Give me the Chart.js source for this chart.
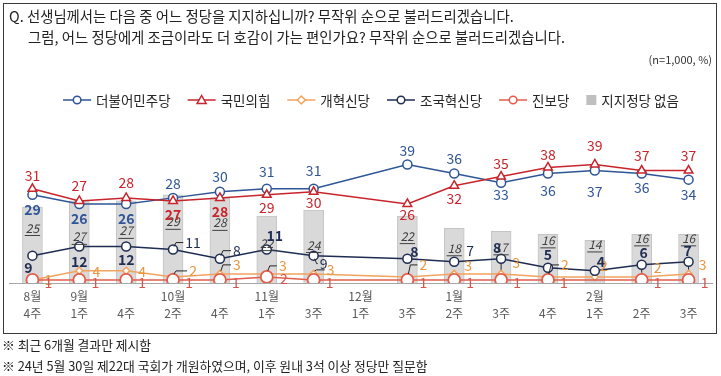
<!DOCTYPE html>
<html><head><meta charset="utf-8">
<script src="https://cdn.jsdelivr.net/npm/chart.js@4.4.1/dist/chart.umd.min.js"></script>
<style>
html,body{margin:0;padding:0;background:#fff;width:721px;height:376px;overflow:hidden;font-family:"Noto Sans CJK KR","Noto Sans",sans-serif;}
#box{position:absolute;left:3px;top:3px;width:712px;height:329px;border:1.5px solid #3a3a3a;}
.t{position:absolute;white-space:nowrap;color:#222;line-height:1;}
canvas{position:absolute;left:0;top:0;}
</style></head><body>
<div id="box"></div>
<canvas id="c" width="721" height="376"></canvas>
<div class="t" style="left:9px;top:9px;font-size:14.4px">Q. 선생님께서는 다음 중 어느 정당을 지지하십니까? 무작위 순으로 불러드리겠습니다.</div>
<div class="t" style="left:28px;top:30px;font-size:14.4px">그럼, 어느 정당에게 조금이라도 더 호감이 가는 편인가요? 무작위 순으로 불러드리겠습니다.</div>
<div class="t" style="right:9px;top:54px;font-size:11px;color:#333">(n=1,000, %)</div>
<div class="t" style="left:2px;top:339px;font-size:12.8px">※ 최근 6개월 결과만 제시함</div>
<div class="t" style="left:2px;top:360px;font-size:12.8px">※ 24년 5월 30일 제22대 국회가 개원하였으며, 이후 원내 3석 이상 정당만 질문함</div>
<script>
// ---- data ----
const categories = [['8월','4주'],['9월','1주'],['','4주'],['10월','2주'],['','4주'],['11월','1주'],['','3주'],['12월','1주'],['','3주'],['1월','2주'],['','3주'],['','4주'],['2월','1주'],['','2주'],['','3주']];
const seriesNames = ['더불어민주당','국민의힘','개혁신당','조국혁신당','진보당','지지정당 없음'];
const democratic  = [29,26,26,28,30,31,31,null,39,36,33,36,37,36,34];
const ppp         = [31,27,28,27,28,29,30,null,26,32,35,38,39,37,37];
const reform      = [1,4,4,2,3,3,3,null,2,3,3,2,2,2,3];
const rebuilding  = [9,12,12,11,8,11,9,null,8,7,8,5,4,6,7];
const progressive = [1,1,1,1,1,2,1,null,1,1,1,1,1,1,1];
const noParty     = [25,27,27,29,28,22,24,null,22,18,17,16,14,16,16];

// ---- label placement (style only): [dx, dy, leader] ----
const demLabel  = [[0,15],[0,15],[0,15],[0,-14],[0,-15],[0,-17],[0,-18],null,[0,-14],[0,-15],[0,12],[0,17],[0,21],[0,14],[0,15]];
const pppLabel  = [[0,-13],[0,-15],[0,-15],[0,14],[0,14],[0,13],[0,11],null,[0,11],[0,13],[0,-13],[0,-13],[0,-19],[0,-15],[0,-15]];
const rebLabel  = [[-4,12],[0,15],[0,13],[20,-7,1],[17,-8,1],[8,-14],[10,8,1],null,[7,-7],[16,-11],[-4,-11],[0,-13],[6,-9],[2,-12],[-1,-11]];
const refLabel  = [[16,0],[17,1],[16,1],[20,-6,1],[17,-9,1],[16,-8,1],[17,-4,1],null,[16,-12,1],[14,-8],[15,-11],[17,-12,1],[9,-11],[16,-9],[14,-9]];
const progLabel = [[16,3],[16,3],[16,3],[16,3],[16,3],[17,2],[16,3],null,[16,3],[16,3],[16,3],[16,3],null,[16,3],[16,3]];
const barLabelDy = [21,36,30,27,25,27,35,null,20,20,16,6,4,4,4];
const stemIdx = [10,11,13,14];
const progRadius = [6,6,6,6,6,6,6,6,6,6,6,6,0,6,6];

const FONT = '"Noto Sans CJK KR","Noto Sans",sans-serif';
const C = {dem:'#2f5597', ppp:'#c8242b', ref:'#f2a35e', refT:'#e8963f', reb:'#1f2d52', prog:'#e25d4c', progT:'#d9534a', bar:'#d9d9d9'};

const labelPlugin = {
  id:'labels',
  afterDatasetDraw(chart, args){
    if (args.index !== 5) return;
    const ctx = chart.ctx;
    const mReb = chart.getDatasetMeta(3), mProg = chart.getDatasetMeta(4);
    ctx.save(); ctx.strokeStyle = '#262626'; ctx.lineWidth = 1;
    stemIdx.forEach(i=>{
      const a = mReb.data[i], b = mProg.data[i];
      ctx.beginPath(); ctx.moveTo(a.x, a.y); ctx.lineTo(b.x, b.y); ctx.stroke();
    });
    ctx.restore();
  },
  afterDatasetsDraw(chart){
    const ctx = chart.ctx;
    const barMeta = chart.getDatasetMeta(5);
    const inBar = (x,y)=> barMeta.data.some((b,i)=> noParty[i]!=null && x>b.x-10 && x<b.x+10 && y>b.y);
    ctx.save();
    ctx.textAlign='center'; ctx.textBaseline='middle';
    barMeta.data.forEach((b,i)=>{
      if (noParty[i]==null) return;
      const y = b.y + barLabelDy[i];
      ctx.font = 'italic 12px '+FONT; ctx.fillStyle='#404040';
      const s = String(noParty[i]); const w = ctx.measureText(s).width;
      ctx.fillText(s, b.x, y);
      ctx.strokeStyle='#404040'; ctx.lineWidth=1;
      ctx.beginPath(); ctx.moveTo(b.x-w/2-1, y+7.5); ctx.lineTo(b.x+w/2+1, y+7.5); ctx.stroke();
    });
    const sets = [[0,democratic,demLabel,C.dem],[1,ppp,pppLabel,C.ppp],[2,reform,refLabel,C.refT],[3,rebuilding,rebLabel,C.reb],[4,progressive,progLabel,C.progT]];
    sets.forEach(([di,vals,pos,col])=>{
      const meta = chart.getDatasetMeta(di);
      meta.data.forEach((p,i)=>{
        if (vals[i]==null || !pos[i]) return;
        const [dx,dy,lead] = pos[i];
        const lx = p.x+dx, ly = p.y+dy;
        const bold = inBar(lx,ly) && (di===0||di===1||di===3);
        ctx.font = (bold?'bold ':'')+'14px '+FONT;
        const s = String(vals[i]); const w = ctx.measureText(s).width;
        if (lead){
          ctx.strokeStyle='#262626'; ctx.lineWidth=1;
          const sg = dy<0?-1:1;
          ctx.beginPath(); ctx.moveTo(p.x+1, p.y+sg*3); ctx.lineTo(p.x+3, ly); ctx.lineTo(lx-w/2-2, ly); ctx.stroke();
        }
        ctx.fillStyle = col;
        ctx.fillText(s, lx, ly);
      });
    });
    ctx.restore();
  },
  afterDraw(chart){
    const ctx = chart.ctx;
    ctx.save();
    ctx.font = '13.5px '+FONT; ctx.textBaseline='middle'; ctx.textAlign='left';
    const items = [
      {t:seriesNames[0], c:C.dem, s:'circle'},
      {t:seriesNames[1], c:C.ppp, s:'triangle'},
      {t:seriesNames[2], c:C.ref, s:'diamond'},
      {t:seriesNames[3], c:C.reb, s:'circle'},
      {t:seriesNames[4], c:C.prog, s:'circle'},
      {t:seriesNames[5], c:'#bfbfbf', s:'bar'}
    ];
    const symW = 28, gap = 5, itemGap = 17;
    let total = 0;
    items.forEach((it,k)=>{ it.w = ctx.measureText(it.t).width; total += (it.s==='bar'?10:symW)+gap+it.w + (k<items.length-1?itemGap:0); });
    let x = 371 - total/2; const y = 100;
    items.forEach(it=>{
      if (it.s==='bar'){
        ctx.fillStyle=it.c; ctx.fillRect(x, y-5, 10, 10); x += 10+gap;
      } else {
        ctx.strokeStyle=it.c; ctx.lineWidth=1.5;
        ctx.beginPath(); ctx.moveTo(x,y); ctx.lineTo(x+symW,y); ctx.stroke();
        const cx = x+symW/2;
        ctx.fillStyle='#fff'; ctx.beginPath();
        if (it.s==='circle') ctx.arc(cx,y,3.8,0,Math.PI*2);
        else if (it.s==='triangle'){ ctx.moveTo(cx,y-4.5); ctx.lineTo(cx+4.5,y+3.5); ctx.lineTo(cx-4.5,y+3.5); ctx.closePath(); }
        else { ctx.moveTo(cx,y-4); ctx.lineTo(cx+4,y); ctx.lineTo(cx,y+4); ctx.lineTo(cx-4,y); ctx.closePath(); }
        ctx.fill(); ctx.stroke();
        x += symW+gap;
      }
      ctx.fillStyle='#262626'; ctx.fillText(it.t, x, y+0.5);
      x += it.w + itemGap;
    });
    ctx.restore();
  }
};

const lineDs = (label, data, color, style, radius, order, extra={}) => Object.assign({
  type:'line', label, data, borderColor:color, borderWidth:1.5, pointStyle:style,
  pointRadius:radius, pointBackgroundColor:'#fff', pointBorderColor:color, pointBorderWidth:1.5,
  spanGaps:true, tension:0, order
}, extra);

new Chart(document.getElementById('c'), {
  data:{
    labels: categories,
    datasets:[
      lineDs(seriesNames[0], democratic, C.dem, 'circle', 4.5, 5),
      lineDs(seriesNames[1], ppp, C.ppp, 'triangle', 5, 4),
      lineDs(seriesNames[2], reform, C.ref, 'rectRot', 3.5, 3),
      lineDs(seriesNames[3], rebuilding, C.reb, 'circle', 4.5, 2),
      lineDs(seriesNames[4], progressive, C.prog, 'circle', progRadius, 1, {pointBorderWidth:1.8}),
      {type:'bar', label:seriesNames[5], data:noParty, backgroundColor:C.bar, borderColor:'#c4c4c4', borderWidth:1, barThickness:20, order:10}
    ]
  },
  options:{
    responsive:false, animation:false,
    layout:{padding:{left:9,right:9,top:131,bottom:48}},
    plugins:{legend:{display:false}, tooltip:{enabled:false}},
    scales:{
      x:{offset:true, grid:{display:false, drawTicks:false}, border:{display:true, color:'#a6a6a6', width:1},
         ticks:{color:'#595959', font:{size:12, family:FONT, lineHeight:1.4}, padding:5, maxRotation:0, autoSkip:false},
         afterFit(s){ s.height = 45; }},
      y:{display:false, min:0, max:50}
    }
  },
  plugins:[labelPlugin]
});
</script>
</body></html>
